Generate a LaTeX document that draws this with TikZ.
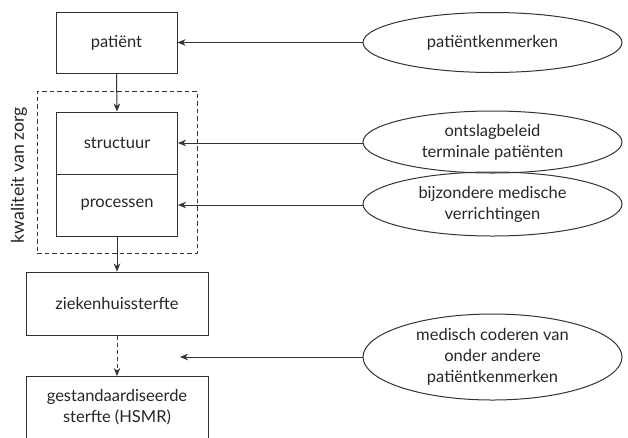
\documentclass[tikz,border=0pt]{standalone}
\usepackage{fontspec}
\usepackage{graphicx}
\setmainfont{Lato}
\usetikzlibrary{shapes.geometric,arrows.meta}
\begin{document}
\begin{tikzpicture}[x=1pt,y=-1pt,
  every node/.style={font=\fontsize{16.5}{21}\selectfont, inner sep=0pt, text=black!85},
  box/.style={draw=black!80, line width=1pt, rectangle, align=center},
  oval/.style={draw=black!80, line width=1pt, ellipse, align=center, minimum width=259pt},
  arr/.style={draw=black!80, line width=1pt, -{Stealth[length=8pt,width=6.5pt,inset=2.5pt]}}]
\useasboundingbox (0,0) rectangle (628,437);
\clip (0,0) rectangle (628,437);
\node[box, minimum width=121pt, minimum height=61pt] (pat) at (116.5,42.5) {patiënt};
\node[draw=black!80, line width=0.9pt, dash pattern=on 4.5pt off 3pt, minimum width=160pt, minimum height=162pt] (kz) at (117,172) {};
\node[box, minimum width=121pt, minimum height=62pt] (str) at (117,143) {structuur};
\node[box, minimum width=121pt, minimum height=62pt] (proc) at (117,205) {processen};
\node[box, minimum width=182pt, minimum height=63pt] (zhs) at (117,303.5) {ziekenhuissterfte};
\node[box, minimum width=182pt, minimum height=70pt, anchor=north] (hsmr) at (117,376) {};
\node (hsmrt) at (117,407) [align=center] {gestandaardiseerde\\sterfte (HSMR)};
\node[rotate=90] (kzl) at (19,175) {\resizebox{136pt}{!}{kwaliteit van zorg}};
\node[oval, minimum height=60pt] (e1) at (492.5,42.5) {patiëntkenmerken};
\node[oval, minimum height=62pt] (e2) at (492.5,142) {ontslagbeleid\\terminale patiënten};
\node[oval, minimum height=64pt] (e3) at (492.5,204) {bijzondere medische\\verrichtingen};
\node[oval, minimum height=86pt] (e4) at (492.5,357) {medisch coderen van\\onder andere\\patiëntkenmerken};
\coordinate (c4) at (180,357);
\draw[arr] (e1.west) -- (pat.east);
\draw[arr] (e2.west |- str.east) -- (str.east);
\draw[arr] (e3.west |- proc.east) -- (proc.east);
\draw[arr] (e4.west) -- (c4);
\draw[arr] (pat.south) -- (str.north);
\draw[arr] (proc.south) -- (zhs.north);
\draw[arr, dash pattern=on 4pt off 3pt] (zhs.south) -- (hsmr.north);
\end{tikzpicture}
\end{document}
